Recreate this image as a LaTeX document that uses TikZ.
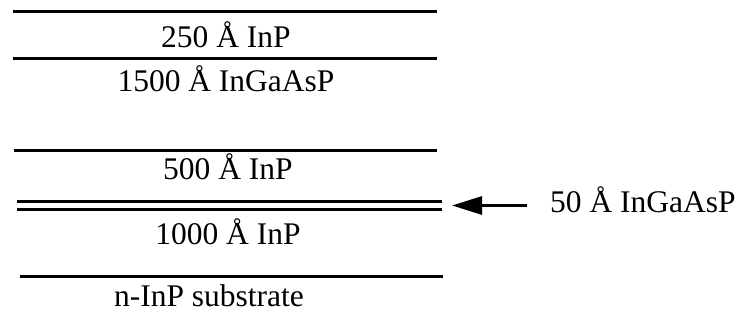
\documentclass[tikz,border=0pt]{standalone}
\usepackage{fontspec}
\setmainfont{Liberation Serif}
\usetikzlibrary{arrows.meta}

\begin{document}
\begin{tikzpicture}[
  x=1pt,y=-1pt,
  lbl/.style={font=\fontsize{31.5}{36}\selectfont,inner sep=0pt,anchor=base},
  layer/.style={line width=3pt},
  arr/.style={-{Triangle[length=30pt,width=18pt]},line width=3pt}
]
\useasboundingbox (0,0) rectangle (744,328);
% layer boundaries
\draw[layer] (13,12) -- (437,12);
\draw[layer] (13,59) -- (437,59);
\draw[layer] (14,151) -- (437,151);
\draw[layer] (17,201.5) -- (442,201.5);
\draw[layer] (17,209.5) -- (442,209.5);
\draw[layer] (20,277) -- (443,277);
% layer labels
\node[lbl] (capinp) at (226,48) {250 Å InP};
\node[lbl] (guide) at (226,92) {1500 Å InGaAsP};
\node[lbl] (spacer) at (228,180) {500 Å InP};
\node[lbl] (buffer) at (228,245) {1000 Å InP};
\node[lbl] (substrate) at (209,307) {n-InP substrate};
\node[lbl,anchor=base west] (thin) at (550,213) {50 Å InGaAsP};
\coordinate (qw) at (452,205.5);
\draw[arr] ([xshift=-23pt]thin.west |- qw) -- (qw);
\end{tikzpicture}
\end{document}
